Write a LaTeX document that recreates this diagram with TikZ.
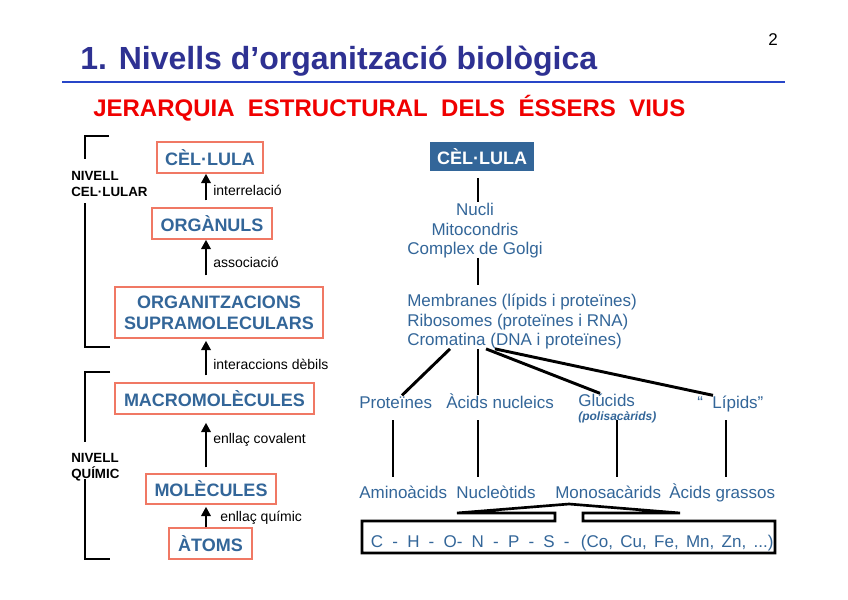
\documentclass[tikz,border=0pt]{standalone}
\usepackage{fontspec}
\setmainfont{Liberation Sans}
\usetikzlibrary{arrows.meta,calc}
\definecolor{tblue}{RGB}{46,49,146}
\definecolor{rblue}{RGB}{40,70,200}
\definecolor{sred}{RGB}{240,0,0}
\definecolor{bblue}{RGB}{51,102,153}
\definecolor{obord}{RGB}{240,120,100}
\newcommand\atx[2]{\makebox[0pt][l]{\hspace{#1}#2}}
\begin{document}
\begin{tikzpicture}[x=0.75pt,y=-0.75pt,
  lbox/.style={draw=obord, line width=1.1pt, fill=white, text=bblue, inner sep=0pt,
     font=\fontsize{13.5}{15.75}\selectfont\bfseries, align=center},
  arr/.style={line width=2.2pt, -{Triangle[width=7pt,length=7pt]}},
  brk/.style={line width=2.2pt},
  lab/.style={anchor=base west, inner sep=0pt, font=\fontsize{10.5}{12}\selectfont},
  btxt/.style={anchor=base west, inner sep=0pt, font=\fontsize{10}{12}\selectfont\bfseries},
  rtxt/.style={inner sep=0pt, text=bblue, font=\fontsize{12.75}{15}\selectfont,
     text height=9.3pt, text depth=2.7pt},
  ln/.style={line width=2.2pt}]
\fill[white] (0,0) rectangle (848,599);
\useasboundingbox (0,0) rectangle (848,599);

% header
\node[anchor=base west, inner sep=0pt, text=tblue, font=\fontsize{24}{28}\selectfont\bfseries] (title) at (80,70) {1. Nivells d’organització biològica};
\node[inner sep=0pt, font=\fontsize{12.75}{15}\selectfont] (pg) at (773,40) {2};
\draw[rblue, line width=1.6pt] (62,82) -- (785,82);
\node[anchor=base west, inner sep=0pt, text=sred, font=\fontsize{18}{20}\selectfont\bfseries] (sub) at (93,117) {JERARQUIA\ \ ESTRUCTURAL\ \ DELS\ \ ÉSSERS\ \ VIUS};

% left column
\node[lbox, minimum width=79.5pt, minimum height=23.25pt] (cel) at (210,157.5) {CÈL·LULA};
\node[lbox, minimum width=90pt, minimum height=23.25pt] (org) at (212,223.5) {ORGÀNULS};
\node[lbox, minimum width=156pt, minimum height=38.25pt] (supra) at (219,312.5) {ORGANITZACIONS\\SUPRAMOLECULARS};
\node[lbox, minimum width=149.25pt, minimum height=23.25pt] (macro) at (214.5,398.5) {MACROMOLÈCULES};
\node[lbox, minimum width=97.5pt, minimum height=22.5pt] (mol) at (211,489) {MOLÈCULES};
\node[lbox, minimum width=62.25pt, minimum height=23.25pt] (atoms) at (210.5,543.5) {ÀTOMS};

\coordinate (ax) at (206,0);
\draw[arr, shorten <=5.25pt] (org.north -| ax) -- (cel.south -| ax);
\draw[arr, shorten <=8.25pt] (supra.north -| ax) -- (org.south -| ax);
\draw[arr, shorten <=5.25pt, shorten >=1.5pt] (macro.north -| ax) -- (supra.south -| ax);
\draw[arr, shorten <=4.5pt, shorten >=6pt] (mol.north -| ax) -- (macro.south -| ax);
\draw[arr, shorten >=1.5pt] (atoms.north -| ax) -- (mol.south -| ax);

\node[lab] (l1) at (213,195) {interrelació};
\node[lab] (l2) at (213,267) {associació};
\node[lab] (l3) at (213,369) {interaccions dèbils};
\node[lab] (l4) at (213,443) {enllaç covalent};
\node[lab] (l5) at (220,521) {enllaç químic};

% brackets
\draw[brk] (109,136) -- (85,136) -- (85,159);
\draw[brk] (85,203) -- (85,347) -- (110,347);
\node[btxt] (nc1) at (71,180) {NIVELL};
\node[btxt] (nc2) at (71,196) {CEL·LULAR};
\draw[brk] (110,372) -- (85,372) -- (85,442);
\draw[brk] (85,479) -- (85,559) -- (110,559);
\node[btxt] (nq1) at (71,462) {NIVELL};
\node[btxt] (nq2) at (71,478) {QUÍMIC};

% right column
\node[fill=bblue, text=white, inner sep=0pt, minimum width=78pt, minimum height=21.75pt,
  font=\fontsize{13.5}{15}\selectfont\bfseries] (celR) at (482,156.5) {CÈL·LULA};
\coordinate (cx) at (478,0);
\node[rtxt, anchor=base] (nucli) at (475,215) {Nucli};
\node[rtxt, anchor=base] (mito) at (475,235) {Mitocondris};
\node[rtxt, anchor=base] (golgi) at (475,254) {Complex de Golgi};
\node[rtxt, anchor=base west] (memb) at (407,306) {Membranes (lípids i proteïnes)};
\node[rtxt, anchor=base west] (ribo) at (407,326) {Ribosomes (proteïnes i RNA)};
\node[rtxt, anchor=base west] (crom) at (407,345) {Cromatina (DNA i proteïnes)};

\draw[ln, shorten <=5.25pt] (celR.south -| cx) -- (nucli.north -| cx);
\draw[ln, shorten >=6.45pt] (golgi.south -| cx) -- (memb.north -| cx);

\node[rtxt, anchor=base west] (prot) at (359,408) {Proteïnes};
\node[rtxt, anchor=base west] (acn) at (446,408) {Àcids nucleics};
\node[rtxt, anchor=base west] (glu) at (578,406) {Glúcids};
\node[anchor=base west, inner sep=0pt, text=bblue, font=\fontsize{9}{10}\selectfont\bfseries\itshape] (poli) at (578,420) {(polisacàrids)};
\node[rtxt, anchor=base west] (lip) at (697,408) {“\ \ Lípids”};

\coordinate (s1) at (450,0); \coordinate (s3) at (486,0); \coordinate (s4) at (495,0);
\coordinate (e1) at (402,0); \coordinate (e3) at (600,0); \coordinate (e4) at (713,0);
\draw[ln] (crom.south -| s1) -- (prot.north -| e1);
\draw[ln] (crom.south -| cx) -- (acn.north -| cx);
\draw[ln] (crom.south -| s3) -- (glu.north -| e3);
\draw[ln] (crom.south -| s4) -- (lip.north -| e4);

\node[rtxt, anchor=base west] (amino) at (359,498) {Aminoàcids};
\node[rtxt, anchor=base west] (nucl) at (456,498) {Nucleòtids};
\node[rtxt, anchor=base west] (mono) at (555,498) {Monosacàrids};
\node[rtxt, anchor=base west] (greix) at (669,498) {Àcids grassos};

\coordinate (v1) at (393,0); \coordinate (v3) at (617,0); \coordinate (v4) at (726,0);
\draw[ln, shorten <=6.3pt, shorten >=6.45pt] (prot.south -| v1) -- (amino.north -| v1);
\draw[ln, shorten <=6.3pt, shorten >=6.45pt] (acn.south -| cx) -- (nucl.north -| cx);
\draw[ln, shorten <=7.8pt, shorten >=6.45pt] (glu.south -| v3) -- (mono.north -| v3);
\draw[ln, shorten <=6.3pt, shorten >=6.45pt] (lip.south -| v4) -- (greix.north -| v4);

% bottom elements box
\draw[line width=2pt, line join=miter] (457,513) -- (569,504) -- (680,513) -- (583,513) -- (583,521)
  -- (775,521) -- (775,553) -- (362,553) -- (362,521) -- (555,521) -- (555,513) -- cycle;
\node[anchor=base west, inner sep=0pt, text=bblue, font=\fontsize{12.75}{14}\selectfont] (elem) at (370,547)
  {\atx{0pt}{\spaceskip=6.9pt C - H - O- N - P - S -}\atx{157.5pt}{\spaceskip=5.5pt (Co, Cu, Fe, Mn, Zn, ...)}};
\end{tikzpicture}
\end{document}
